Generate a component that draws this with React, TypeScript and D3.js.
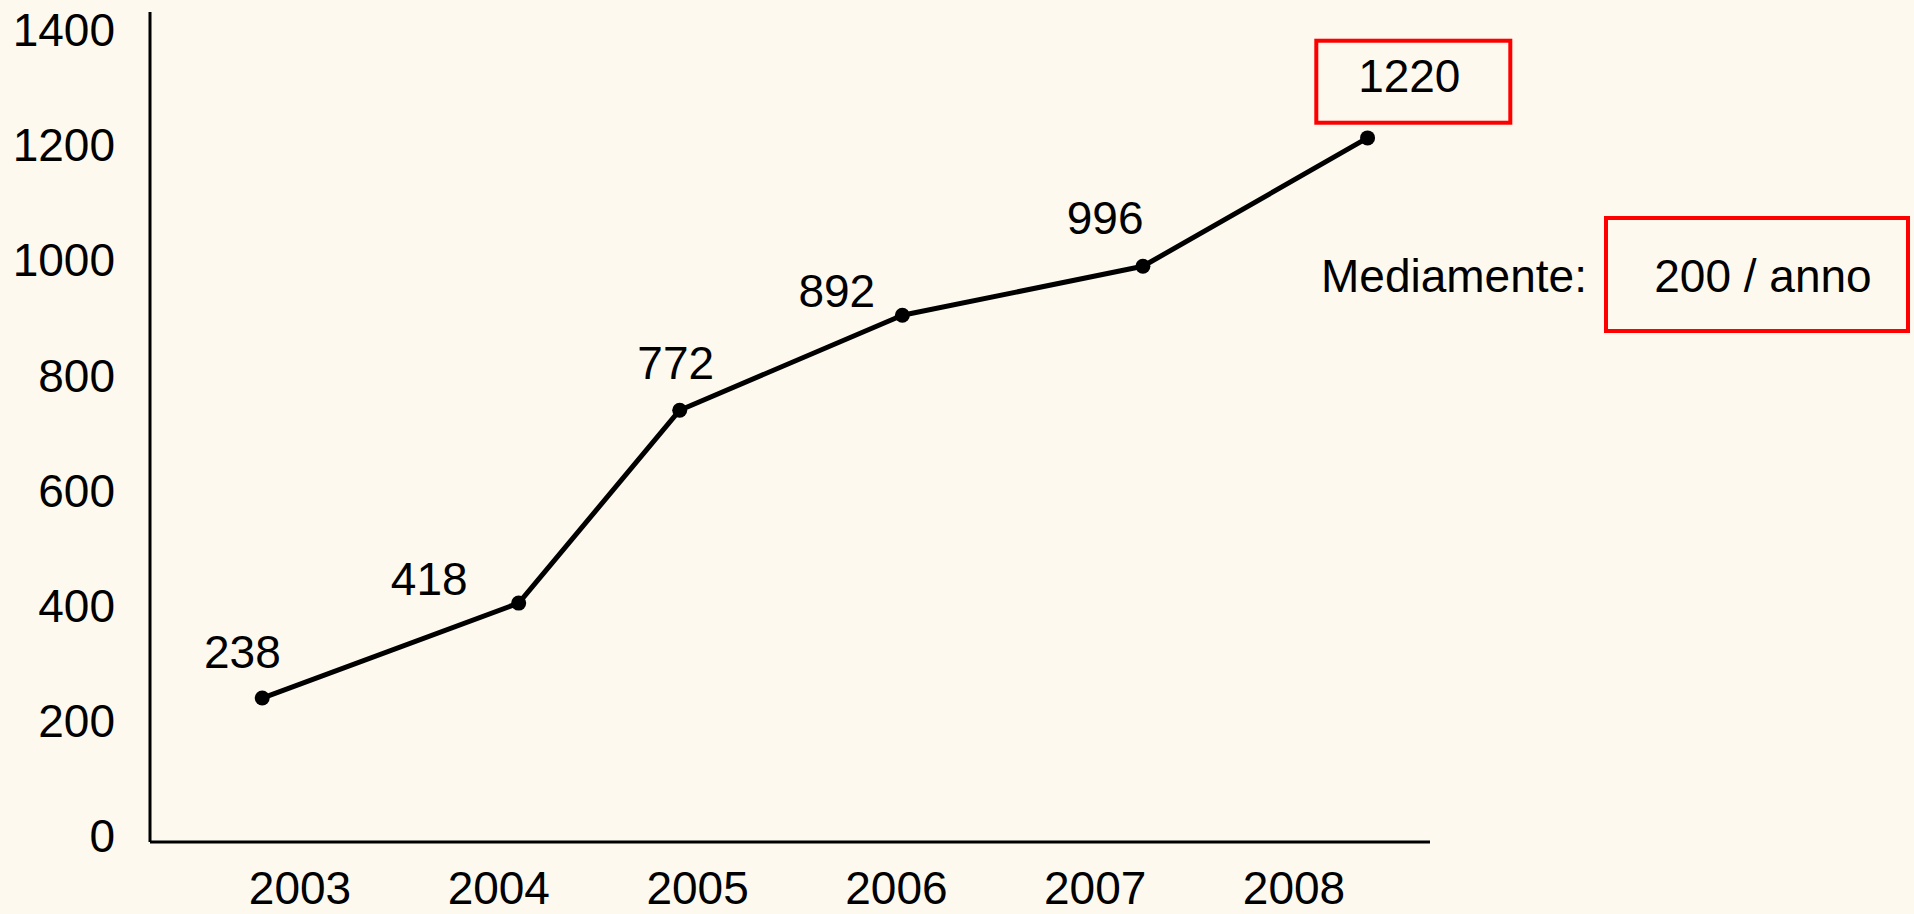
import React from "react";
import * as d3 from "d3";

// ---- data ----
const years = ["2003", "2004", "2005", "2006", "2007", "2008"];
const valueLabels = ["238", "418", "772", "892", "996", "1220"];
// where each point is actually drawn (hand-placed in the original)
const pointYears = [2002.81, 2004.1, 2004.91, 2006.03, 2007.24, 2008.37];
const pointValues = [250, 415, 750, 915, 1000, 1223];
// where each value label sits (in data units)
const labelYears = [2002.71, 2003.65, 2004.89, 2005.7, 2007.05, 2008.58];
const labelValues = [330, 457, 832, 957, 1084, 1331];
const yTicks = [0, 200, 400, 600, 800, 1000, 1200, 1400];
const noteLabel = "Mediamente:";
const noteValue = "200 / anno";

const W = 1914;
const H = 914;
const BG = "#fdf9ee";
const FONT = "'Liberation Sans', Arial, Helvetica, sans-serif";
const FS = 46;

export default function App() {
  const axisX = 150;
  const axisTop = 12;
  const axisBottom = 842;
  const axisRight = 1430;

  const y = d3.scaleLinear().domain([0, 1400]).range([842, 36]);
  const x = d3.scaleLinear().domain([2003, 2008]).range([300, 1294]);

  const pts = pointYears.map((yr, i) => [x(yr), y(pointValues[i])] as [number, number]);
  const line = d3.line()(pts) || "";

  const last = valueLabels.length - 1;
  const lx = x(labelYears[last]);
  const ly = y(labelValues[last]);

  return (
    <svg
      width={W}
      height={H}
      style={{ position: "absolute", left: 0, top: 0, display: "block" }}
      fontFamily={FONT}
    >
      <rect x={0} y={0} width={W} height={H} fill={BG} />
      {/* axes */}
      <line x1={axisX} y1={axisTop} x2={axisX} y2={axisBottom} stroke="#000" strokeWidth={3} />
      <line x1={axisX} y1={axisBottom} x2={axisRight} y2={axisBottom} stroke="#000" strokeWidth={3} />
      {/* y tick labels */}
      {yTicks.map((t) => (
        <text key={t} x={115} y={y(t) - 6} dy="0.35em" textAnchor="end" fontSize={FS} fill="#000">
          {t}
        </text>
      ))}
      {/* x labels */}
      {years.map((yr) => (
        <text key={yr} x={x(+yr)} y={904} textAnchor="middle" fontSize={FS} fill="#000">
          {yr}
        </text>
      ))}
      {/* line */}
      <path d={line} fill="none" stroke="#000" strokeWidth={5} strokeLinejoin="round" />
      {pts.map((p, i) => (
        <circle key={i} cx={p[0]} cy={p[1]} r={7.5} fill="#000" />
      ))}
      {/* value labels */}
      {valueLabels.map((v, i) => (
        <text
          key={v}
          x={x(labelYears[i])}
          y={y(labelValues[i])}
          dy="0.35em"
          textAnchor="middle"
          fontSize={FS}
          fill="#000"
        >
          {v}
        </text>
      ))}
      {/* red box around last value */}
      <rect x={lx - 93} y={ly - 35} width={194} height={82} fill="none" stroke="#ff0000" strokeWidth={4} />
      {/* note */}
      <text x={1321} y={276} dy="0.35em" fontSize={FS} fill="#000">
        {noteLabel}
      </text>
      <rect x={1606} y={218} width={302} height={113} fill="none" stroke="#ff0000" strokeWidth={4} />
      <text x={1763} y={276} dy="0.35em" textAnchor="middle" fontSize={FS} fill="#000">
        {noteValue}
      </text>
    </svg>
  );
}
